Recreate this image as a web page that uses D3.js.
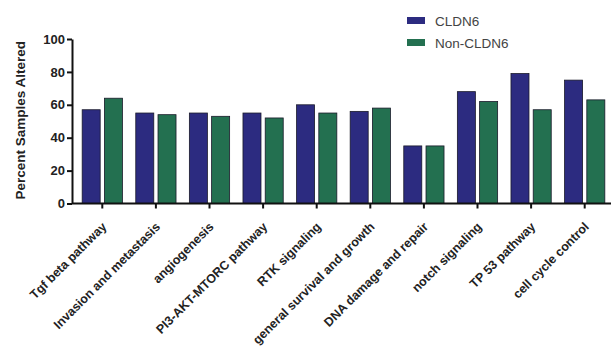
<!DOCTYPE html>
<html>
<head>
<meta charset="utf-8">
<script src="https://cdn.jsdelivr.net/npm/d3@7"></script>
<style>
  html, body { margin: 0; padding: 0; background: #fff; }
  svg { display: block; font-family: "Liberation Sans", Arial, Helvetica, sans-serif; }
</style>
</head>
<body>
<svg id="chart" width="612" height="346"></svg>
<script>
// Pathway categories along the x axis
const categories = [
  "Tgf beta pathway",
  "Invasion and metastasis",
  "angiogenesis",
  "PI3-AKT-MTORC pathway",
  "RTK signaling",
  "general survival and growth",
  "DNA damage and repair",
  "notch signaling",
  "TP 53 pathway",
  "cell cycle control"
];

// Percent of samples altered, per group
const seriesNames = ["CLDN6", "Non-CLDN6"];
const cldn6Values = [57, 55, 55, 55, 60, 56, 35, 68, 79, 75];
const nonCldn6Values = [64, 54, 53, 52, 55, 58, 35, 62, 57, 63];

const yTicks = [0, 20, 40, 60, 80, 100];
const yLabel = "Percent Samples Altered";

const colors = { "CLDN6": "#2c2b80", "Non-CLDN6": "#237050" };

const svg = d3.select("#chart");

const axisX0 = 72;           // y-axis position
const plotTop = 39, plotBottom = 203.5;

const y = d3.scaleLinear().domain([0, 100]).range([plotBottom, plotTop]);

const x = d3.scaleBand()
  .domain(categories)
  .range([75.5, 611.5])
  .paddingInner(0)
  .paddingOuter(0);

const xInner = d3.scaleBand()
  .domain(seriesNames)
  .range([0, x.bandwidth()])
  .paddingInner(0.19)
  .paddingOuter(0.3);

const rows = categories.map((c, i) => ({
  category: c,
  values: [
    { key: "CLDN6", value: cldn6Values[i] },
    { key: "Non-CLDN6", value: nonCldn6Values[i] }
  ]
}));

// Bars
const groups = svg.append("g")
  .selectAll("g")
  .data(rows)
  .join("g")
  .attr("transform", d => `translate(${x(d.category)},0)`);

groups.selectAll("rect")
  .data(d => d.values)
  .join("rect")
  .attr("x", d => xInner(d.key))
  .attr("width", xInner.bandwidth())
  .attr("y", d => y(d.value))
  .attr("height", d => y(0) - y(d.value))
  .attr("fill", d => colors[d.key])
  .attr("stroke", "#1a1a2a")
  .attr("stroke-width", 0.8);

// Y axis
const yAxis = svg.append("g")
  .attr("transform", `translate(${axisX0},0)`)
  .call(d3.axisLeft(y).tickValues(yTicks).tickSize(5).tickPadding(2).tickSizeOuter(0));
yAxis.select(".domain").attr("stroke", "#111").attr("stroke-width", 2);
yAxis.selectAll(".tick line").attr("stroke", "#111").attr("stroke-width", 2);
yAxis.selectAll(".tick text")
  .attr("fill", "#222")
  .style("font-size", "13px")
  .style("font-weight", "bold");

// X axis
const xAxis = svg.append("g")
  .attr("transform", `translate(0,${plotBottom})`)
  .call(d3.axisBottom(x).tickSize(5).tickSizeOuter(0).tickFormat(""));
xAxis.select(".domain")
  .attr("d", `M${axisX0},0H611`)
  .attr("stroke", "#111").attr("stroke-width", 2);
xAxis.selectAll(".tick line").attr("stroke", "#111").attr("stroke-width", 2);

// Rotated category labels
svg.append("g")
  .selectAll("text")
  .data(categories)
  .join("text")
  .attr("transform", d => `translate(${x(d) + x.bandwidth() / 2 + 5},${plotBottom + 24}) rotate(-45)`)
  .attr("text-anchor", "end")
  .attr("fill", "#222")
  .style("font-size", "12.5px")
  .style("font-weight", "bold")
  .text(d => d);

// Y axis title
svg.append("text")
  .attr("transform", `translate(25,${(plotTop + plotBottom) / 2 - 1}) rotate(-90)`)
  .attr("text-anchor", "middle")
  .attr("fill", "#222")
  .style("font-size", "13.5px")
  .style("font-weight", "bold")
  .text(yLabel);

// Legend
const legend = svg.append("g")
  .selectAll("g")
  .data(seriesNames)
  .join("g")
  .attr("transform", (d, i) => `translate(407,${17 + i * 22})`);
legend.append("rect")
  .attr("width", 18).attr("height", 7)
  .attr("fill", d => colors[d]);
legend.append("text")
  .attr("x", 28).attr("y", 4)
  .attr("dy", "0.35em")
  .attr("fill", "#444")
  .style("font-size", "13.5px")
  .text(d => d);
</script>
</body>
</html>
